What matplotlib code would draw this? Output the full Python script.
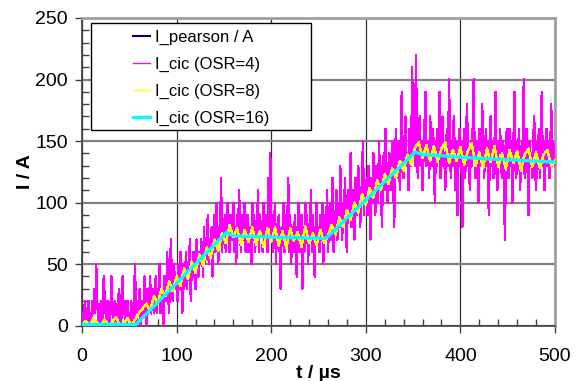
import matplotlib
matplotlib.use('Agg')
import matplotlib.pyplot as plt
import numpy as np
from matplotlib.ticker import MultipleLocator
from matplotlib.patches import Rectangle

plt.rcParams['font.family'] = ['Liberation Sans', 'DejaVu Sans']

# I_cic (OSR=4), one sample every 1 us, 0..500 us
t_osr4 = np.arange(0, 501, 1)
i_osr4 = [
    0, 10, 0, 20, 10, 0, 10, 20, 0, 10, 0, 20, 10, 30, 10, 50, 20, 10, 0, 10, 20, 0, 10, 40, 20,
    10, 0, 20, 10, 0, 10, 40, 20, 10, 0, 20, 10, 0, 10, 30, 20, 0, 10, 40, 10, 20, 0, 10, 20, 0,
    10, 0, 20, 10, 0, 20, 50, 10, 0, 20, 10, 30, 0, 10, 20, 10, 40, 20, 0, 30, 10, 20, 40, 10, 20,
    30, 10, 20, 40, 10, 30, 20, 50, 10, 30, 20, 0, 40, 30, 20, 60, 30, 10, 40, 70, 30, 20, 50, 40, 30,
    40, 20, 50, 30, 60, 40, 10, 50, 30, 40, 60, 30, 50, 40, 70, 20, 50, 40, 60, 50, 30, 70, 50, 40, 60,
    50, 70, 60, 40, 80, 50, 60, 70, 90, 50, 70, 60, 80, 40, 70, 90, 60, 100, 70, 50, 80, 70, 120, 60, 80,
    70, 90, 60, 80, 100, 70, 60, 90, 80, 70, 100, 60, 80, 50, 90, 70, 110, 80, 60, 90, 70, 80, 100, 60, 80,
    90, 60, 70, 80, 50, 100, 70, 90, 60, 80, 70, 110, 60, 90, 80, 70, 60, 100, 80, 70, 90, 60, 120, 80, 140,
    70, 90, 60, 80, 100, 50, 80, 70, 90, 60, 30, 80, 70, 100, 60, 90, 70, 80, 120, 60, 90, 50, 70, 80, 60,
    90, 70, 40, 80, 100, 60, 70, 90, 30, 80, 60, 100, 70, 90, 50, 80, 70, 110, 60, 90, 70, 40, 80, 100, 70,
    80, 60, 90, 70, 100, 50, 80, 90, 70, 110, 60, 80, 100, 70, 90, 120, 60, 80, 90, 110, 70, 100, 80, 130, 90,
    70, 100, 90, 120, 80, 60, 110, 90, 100, 140, 80, 110, 90, 70, 120, 100, 90, 130, 110, 80, 100, 120, 150, 90, 110,
    100, 120, 90, 130, 110, 70, 120, 100, 140, 110, 90, 130, 120, 100, 150, 110, 130, 80, 120, 140, 110, 160, 120, 100, 130,
    140, 110, 130, 150, 120, 80, 140, 160, 120, 130, 150, 110, 140, 190, 130, 120, 150, 170, 130, 140, 110, 160, 150, 130, 210,
    140, 160, 130, 220, 150, 120, 140, 170, 130, 150, 110, 140, 160, 190, 130, 150, 140, 120, 170, 150, 130, 160, 140, 100, 150,
    130, 160, 140, 190, 120, 150, 170, 130, 140, 110, 150, 160, 130, 200, 140, 120, 150, 130, 170, 140, 110, 150, 90, 140, 160,
    130, 150, 80, 140, 160, 120, 150, 180, 130, 140, 110, 150, 130, 160, 200, 140, 120, 150, 130, 100, 160, 140, 130, 180, 150,
    120, 140, 160, 130, 150, 90, 140, 170, 130, 150, 120, 140, 190, 130, 110, 150, 140, 160, 130, 120, 150, 140, 70, 130, 160,
    140, 120, 160, 130, 150, 100, 140, 190, 130, 120, 150, 140, 160, 110, 130, 150, 140, 200, 120, 140, 160, 130, 90, 150, 130,
    140, 120, 150, 170, 130, 110, 150, 140, 160, 120, 140, 190, 130, 150, 110, 140, 160, 130, 150, 120, 140, 180, 130, 150, 140,
    130,
]

# I_cic (OSR=8), one sample every 4 us
t_osr8 = np.arange(0, 501, 4)
i_osr8 = [
    0, 4, 0, 6, 2, 0, 5, 0, 3, 7, 0, 2, 6, 0, 5, 10, 14, 18, 12, 24, 18, 30, 24, 36, 28,
    40, 32, 47, 38, 52, 43, 58, 49, 64, 55, 70, 61, 75, 67, 82, 72, 79, 66, 78, 68, 80, 66, 77, 64, 79,
    68, 80, 65, 77, 63, 79, 69, 76, 64, 81, 67, 75, 65, 78, 67, 73, 82, 74, 88, 80, 94, 86, 100, 92, 107,
    98, 112, 104, 118, 110, 123, 115, 128, 120, 134, 126, 139, 131, 145, 149, 136, 147, 134, 146, 133, 144, 149, 132, 143, 134,
    145, 131, 142, 148, 130, 141, 128, 144, 133, 146, 129, 140, 127, 143, 132, 142, 126, 139, 144, 129, 141, 128, 139, 143, 130,
    134,
]

# I_cic (OSR=16), smooth
t_osr16 = [0, 57, 153, 160, 200, 258, 352, 360, 420, 500]
i_osr16 = [1, 1, 76, 73, 72, 71, 141, 139, 136, 133]

# I_pearson
t_pear = [0, 55, 155, 255, 355, 500]
i_pear = [0, 0, 75, 72, 140, 133]

fig = plt.figure(figsize=(5.81, 3.81), dpi=100)
ax = fig.add_axes([82 / 581, 1 - 325.7 / 381, 473 / 581, 307.7 / 381])

ax.plot(t_pear, i_pear, color='#000080', lw=1.5, label='I_pearson / A', zorder=2)
ax.plot(t_osr4, i_osr4, color='#ff00ff', lw=1.0, antialiased=False,
        label='I_cic (OSR=4)', zorder=3)
ax.plot(t_osr8, i_osr8, color='#ffff00', lw=1.0, antialiased=False,
        label='I_cic (OSR=8)', zorder=4)
ax.plot(t_osr16, i_osr16, color='#00ffff', lw=2.4, label='I_cic (OSR=16)', zorder=5)

ax.set_xlim(0, 500)
ax.set_ylim(0, 250)
ax.xaxis.set_major_locator(MultipleLocator(100))
ax.xaxis.set_minor_locator(MultipleLocator(20))
ax.yaxis.set_major_locator(MultipleLocator(50))
ax.yaxis.set_minor_locator(MultipleLocator(10))
ax.tick_params(which='major', direction='out', length=5, width=1, labelsize=14, color='#404040')
ax.tick_params(axis='x', which='major', pad=11)
ax.tick_params(axis='y', which='major', pad=5)
ax.tick_params(which='minor', direction='in', length=5, width=1, color='#404040')

ax.grid(axis='x', which='major', color='#303030', lw=0.9, zorder=1)
ax.grid(axis='y', which='major', color='#808080', lw=1.6, zorder=1)
ax.set_axisbelow(True)

for side in ['left', 'bottom']:
    ax.spines[side].set_color('#404040')
    ax.spines[side].set_linewidth(1.2)
for side in ['top', 'right']:
    ax.spines[side].set_color('#a0a0a0')
    ax.spines[side].set_linewidth(2)

ax.set_xlabel('t / µs', fontsize=14, fontweight='bold', labelpad=0)
ax.set_ylabel('I / A', fontsize=14, fontweight='bold', labelpad=1)

# legend box (Excel style, entries centred in a wide frame)
box = Rectangle((0.0184, 0.636), 0.465, 0.348, transform=ax.transAxes,
                facecolor='white', edgecolor='black', lw=1.0, zorder=6)
ax.add_patch(box)
leg = ax.legend(loc='upper left', bbox_to_anchor=(0.108, 0.963), borderaxespad=0,
                fontsize=12, frameon=False, handlelength=1.0, handletextpad=0.3,
                labelspacing=0.72, borderpad=0)
leg.set_zorder(7)

fig.savefig('out.png', dpi=100)
